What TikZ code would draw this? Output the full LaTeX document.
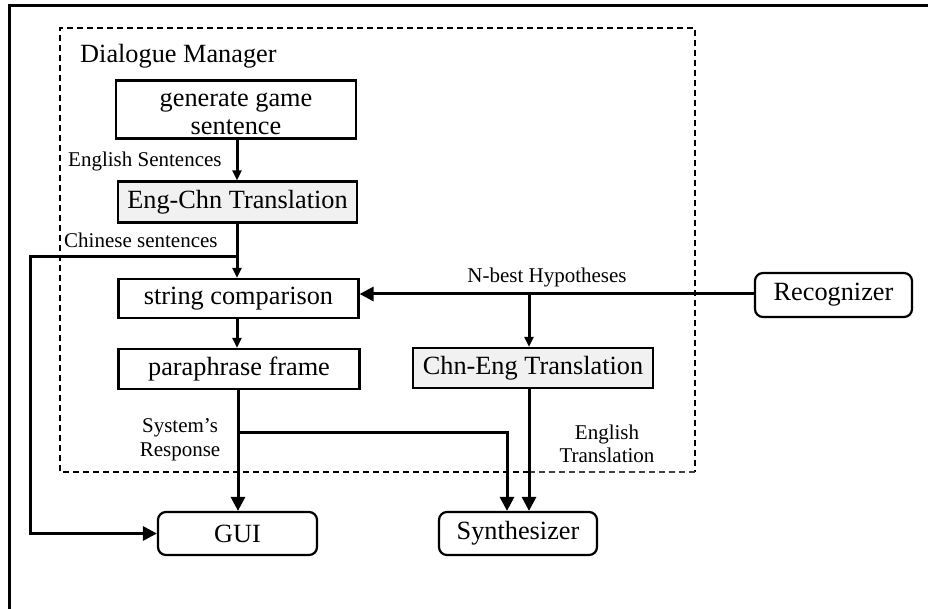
\documentclass[tikz,border=0pt]{standalone}
\usepackage{fontspec}
\setmainfont{Liberation Serif}
\usetikzlibrary{arrows.meta}
\definecolor{boxgray}{RGB}{241,241,241}
\begin{document}
\begin{tikzpicture}[x=1pt,y=-1pt,
  bigfont/.style={font=\fontsize{26.3}{28}\selectfont},
  smallfont/.style={font=\fontsize{21}{24}\selectfont},
  box/.style={draw,line width=2.2pt,inner sep=0pt,bigfont,align=center},
  rbox/.style={box,rounded corners=8pt},
  txt/.style={inner sep=0pt,bigfont},
  lab/.style={inner sep=0pt,smallfont},
  conn/.style={line width=3pt},
  smallarrow/.style={conn,-{Triangle[length=10pt,width=9pt]}},
  bigarrow/.style={conn,-{Triangle[length=14pt,width=14pt]}},
  dm/.style={line width=2pt,dash pattern=on 6pt off 4pt}
]
\useasboundingbox (0,0) rectangle (928,609);
% outer frame (only top and left visible)
\draw[line width=3pt] (9,615) -- (9,5.5) -- (935,5.5);
% dashed Dialogue Manager region
\draw[dm] (529,472) -- (60,472) -- (60,28) -- (695,28) -- (695,472);
\draw[dm,line width=1.2pt,black!75] (695,472) -- (529,472);
\node[txt,anchor=base west] (dmlabel) at (80,63) {Dialogue Manager};

% nodes
\node[box,minimum width=240pt,minimum height=58pt] (gen) at (236,109.5) {};
\node[txt,anchor=base] (gen1) at (236,107) {generate game};
\node[txt,anchor=base] (gen2) at (236,135) {sentence};
\node[box,fill=boxgray,minimum width=239pt,minimum height=41pt] (engchn) at (237.5,202) {Eng-Chn Translation};
\node[box,minimum width=240pt,minimum height=39pt] (strcmp) at (238.5,298.5) {string comparison};
\node[box,minimum width=241pt,minimum height=40pt] (para) at (239,369) {paraphrase frame};
\node[box,fill=boxgray,minimum width=240pt,minimum height=40pt] (chneng) at (533,368) {Chn-Eng Translation};
\node[rbox,minimum width=157pt,minimum height=44pt] (recog) at (833.5,295) {Recognizer};
\node[rbox,minimum width=159pt,minimum height=43pt] (gui) at (237.5,533.5) {GUI};
\node[rbox,minimum width=158pt,minimum height=43pt] (synth) at (518,533.5) {Synthesizer};

% labels
\node[lab,anchor=base west] (les) at (68,167) {English Sentences};
\node[lab,anchor=base west] (lcs) at (64,248) {Chinese sentences};
\node[lab,anchor=base] (lnb) at (547,283) {N-best Hypotheses};
\node[lab,anchor=base] (lsys) at (180,432) {System’s};
\node[lab,anchor=base] (lresp) at (180,456) {Response};
\node[lab,anchor=base] (leng) at (607,439) {English};
\node[lab,anchor=base] (ltr) at (607,462) {Translation};

% junction coordinates
\coordinate (cj) at (237,257);
\coordinate (cl) at (30,257);
\coordinate (cx) at (237,0);
\coordinate (nb) at (529,294);
\coordinate (sb) at (238,432);
\coordinate (sr) at (507,432);

% connectors
\draw[smallarrow] (gen.south -| cx) -- (cx |- engchn.north);
\draw[smallarrow] (engchn.south -| cx) -- (cx |- strcmp.north);
\draw[bigarrow] (cj) -- (cl) -- (cl |- gui.west) -- (gui.west);
\draw[smallarrow] (strcmp.south -| cx) -- (cx |- para.north);
\draw[bigarrow] (recog.west |- nb) -- (nb -| strcmp.east);
\draw[smallarrow] (nb) -- (nb |- chneng.north);
\draw[bigarrow] (nb |- chneng.south) -- (nb |- synth.north);
\draw[bigarrow] (para.south -| sb) -- (sb |- gui.north);
\draw[bigarrow] (sb) -- (sr) -- (sr |- synth.north);
\end{tikzpicture}
\end{document}
